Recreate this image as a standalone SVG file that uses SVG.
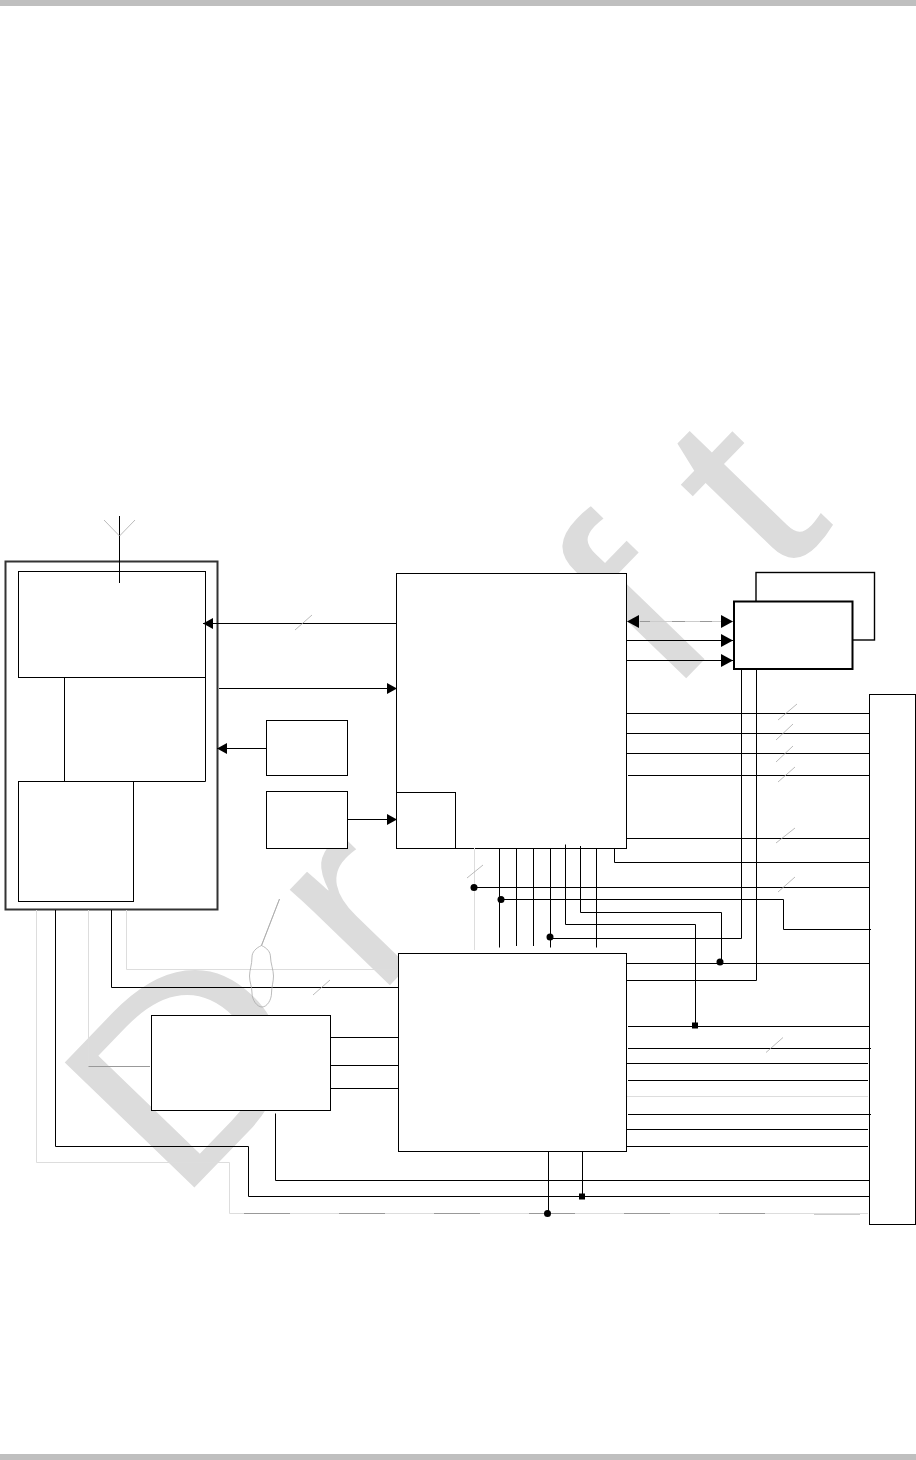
<svg xmlns="http://www.w3.org/2000/svg" width="916" height="1460" viewBox="0 0 916 1460">
<style>
.b{fill:#fff;stroke:#000;stroke-width:1}
.c{fill:none;stroke:#000;stroke-width:1}
.l{fill:none;stroke:#ddd;stroke-width:1}
.m{fill:none;stroke:#999;stroke-width:1}
.s{fill:none;stroke:#aaa;stroke-width:.8}
.wm{font-family:"Liberation Sans",Arial,sans-serif;font-size:262px;fill:#dcdcdc}
</style>
<defs>
<marker id="ah" markerUnits="userSpaceOnUse" markerWidth="10" markerHeight="12" refX="10" refY="6" orient="auto-start-reverse"><path d="M0 .5L10 6L0 11.5Z" fill="#000"/></marker>
<marker id="ahl" markerUnits="userSpaceOnUse" markerWidth="12" markerHeight="14" refX="12" refY="7" orient="auto-start-reverse"><path d="M0 .5L12 7L0 13.5Z" fill="#000"/></marker>
</defs>
<rect width="916" height="1460" fill="#fff"/>
<rect id="header-bar" x="0" y="0" width="916" height="6" fill="#bfbfbf"/>
<rect id="footer-bar" x="0" y="1454" width="916" height="6" fill="#bfbfbf"/>
<text id="watermark" class="wm" transform="translate(194 1188) rotate(-46) scale(1.15 1)"><tspan x="-21" y="0">D</tspan><tspan x="227" y="0">r</tspan><tspan x="395" y="0">a</tspan><tspan x="593" y="0">f</tspan><tspan x="730" y="0">t</tspan></text>

<g id="node-module">
<rect x="5.5" y="561.5" width="212" height="348" fill="#fff" stroke="#333" stroke-width="2"/>
</g>
<g id="node-rf"><rect class="b" x="18.5" y="571.5" width="187" height="106"/></g>
<g id="node-baseband"><path class="c" d="M64.5 677.5V781.5H205.5V677.5"/></g>
<g id="node-lower"><rect class="b" x="18.5" y="781.5" width="115" height="120"/></g>
<g id="node-osc1"><rect class="b" x="266.5" y="720.5" width="81" height="55"/></g>
<g id="node-osc2"><rect class="b" x="266.5" y="791.5" width="81" height="57"/></g>
<g id="node-main"><rect class="b" x="396.5" y="573.5" width="230" height="275"/></g>
<g id="node-main-sub"><rect class="b" x="396.5" y="792.5" width="59" height="56"/></g>
<g id="node-memory-back"><rect x="756" y="572.5" width="118.5" height="67.5" fill="#fff" stroke="#000" stroke-width="1.4"/></g>
<g id="node-memory-front"><rect x="734" y="601.5" width="118.5" height="67.5" fill="#fff" stroke="#000" stroke-width="2"/></g>
<g id="node-connector"><rect class="b" x="869.5" y="694.5" width="46" height="530"/></g>
<g id="node-lower-main"><rect class="b" x="398.5" y="953.5" width="228" height="198"/></g>
<g id="node-power"><rect class="b" x="151.5" y="1015.5" width="179" height="95"/></g>

<g id="connectors">
<path class="c" d="M119.5 516V583"/>
<path class="s" d="M104 520L119.5 536L135 520"/>
<path class="c" d="M396 623.5H203" marker-end="url(#ah)"/>
<path class="c" d="M219 688.5H397" marker-end="url(#ah)"/>
<path class="c" d="M266 748.5H217" marker-end="url(#ah)"/>
<path class="c" d="M348 819.5H397" marker-end="url(#ah)"/>
<path d="M627 621.5H733" fill="none" stroke="#ccc" marker-start="url(#ahl)" marker-end="url(#ahl)"/>
<path class="m" d="M640 621.5H650M672 621.5H685M700 621.5H712"/>
<path class="c" d="M627 640.5H733" marker-end="url(#ahl)"/>
<path class="c" d="M627 660.5H733" marker-end="url(#ahl)"/>
<path class="c" d="M627 713.5H869M627 733.5H869M627 753.5H869M628 775.5H869M627 838.5H869"/>
<path class="c" d="M614.5 848V862.5H869"/>
<path class="c" d="M474 887.5H869"/>
<path class="c" d="M501 899.5H783.5V929.5H871"/>
<path class="c" d="M741.5 669V938.5H550"/>
<path class="c" d="M756.5 669V980.5H627"/>
<path class="c" d="M499.5 848V947.5M516.5 848V946M533.5 848V946M550.5 848V947.5M596.5 848V947.5"/>
<path class="c" d="M565.5 844.5V924.5H695.5V1026"/>
<path class="c" d="M580.5 846V912.5H721.5V962"/>
<path class="l" d="M474.5 848V950"/>
<path class="c" d="M627 963.5H869"/>
<path class="c" d="M628 1026.5H869M628 1048.5H871M627 1063.5H868M628 1080.5H868M628 1114.5H871M627 1129.5H868M627 1146.5H868"/>
<path class="l" d="M627 1096.5H868"/>
<path class="c" d="M55.5 910V1146.5H248.5V1196.5H869"/>
<path class="c" d="M111.5 910V987.5H398"/>
<path class="l" d="M126.5 910V969.5H398"/>
<path class="l" d="M88.5 910V1066.5"/>
<path class="m" d="M88.5 1066.5H150"/>
<path class="l" d="M36.5 910V1162.5H229.5V1213.5H868"/>
<path class="m" d="M244 1213.5H290M339 1213.5H385M434 1213.5H480M529 1213.5H575M624 1213.5H670M719 1213.5H765"/>
<path d="M814 1214.5H860" fill="none" stroke="#ccc"/>
<path class="c" d="M330 1037.5H398M330 1065.5H398M330 1088.5H398"/>
<path class="c" d="M275.5 1113.5V1180.5H869"/>
<path class="c" d="M548.5 1151V1213M582.5 1151V1196"/>
<path class="s" d="M295 630L312 615M778 720L797 704M776 740L793 724M776 762L793 746M778 782L795 767M776 843L795 828M778 892L795 877M467 878L483 865M313 995L330 980M766 1052.5L783 1037.5"/>
<path class="s" d="M279.5 899L261.5 945.5C256 948 252 952 252 957C252 965 249.5 970 249.5 976C249.5 982 252 987 252 993C252 1000 257 1007 262 1007C267 1007 271.5 1000 271.5 993C271.5 987 273.5 982 273.5 976C273.5 970 270.5 963 270.5 957C270.5 952 267 948 261.5 945.5Z"/>
</g>
<g id="junctions" fill="#000">
<circle cx="474" cy="887.5" r="3.5"/>
<circle cx="501" cy="899.5" r="3.5"/>
<circle cx="550" cy="937" r="3.5"/>
<circle cx="720" cy="962" r="3.5"/>
<circle cx="547.5" cy="1213.5" r="3.5"/>
<rect x="692" y="1022.5" width="6" height="6"/>
<rect x="579" y="1193.5" width="6" height="6"/>
</g>
</svg>
